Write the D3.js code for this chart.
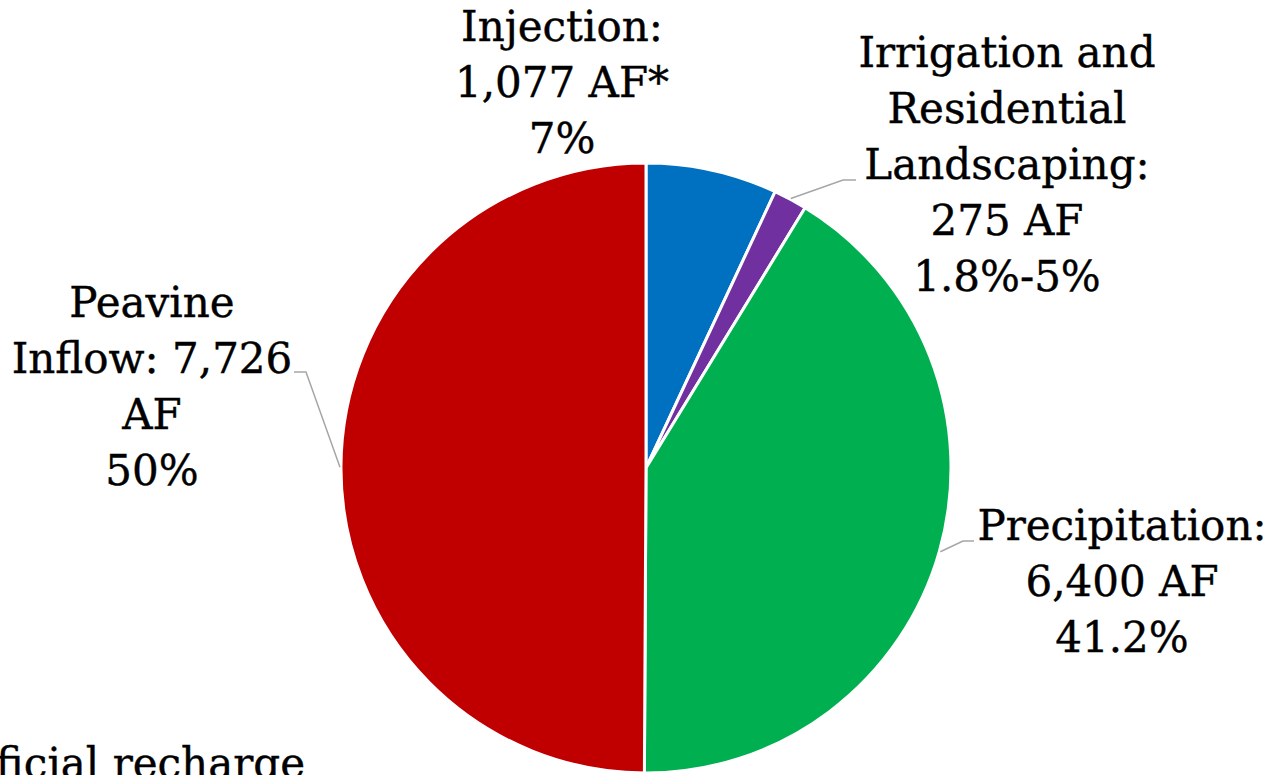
<!DOCTYPE html>
<html>
<head>
<meta charset="utf-8">
<script src="https://cdn.jsdelivr.net/npm/d3@7"></script>
<style>
	body { margin: 0; background: #fff; overflow: hidden; }
	text { font-family: "DejaVu Serif", serif; fill: #000; stroke: #000; stroke-width: 0.4px; }
</style>
</head>
<body>
<div id="chart"></div>
<script>
// Recharge sources, clockwise from 12 o'clock
const sources = ["Injection", "Irrigation", "Precipitation", "Peavine"];
const acreFeet = [1077, 275, 6400, 7726];
const sliceColors = ["#0070C0", "#7030A0", "#00B050", "#C00000"];
// label text as written on the slide (percent lines are the slide's own numbers)
const labelLines = [
	["Injection:", "1,077 AF*", "7%"],
	["Irrigation and", "Residential", "Landscaping:", "275 AF", "1.8%-5%"],
	["Precipitation:", "6,400 AF", "41.2%"],
	["Peavine", "Inflow: 7,726", "AF", "50%"]
];
const footnote = "*Artificial recharge";

const width = 1273, height = 775;
const cx = 646, cy = 468, radius = 305;
const lineH = 56;
const fontSize = "42px";

// where each label block sits (centre x, first baseline) and where its leader ends
const labelLayout = [
	{ x: 562, y: 41, leader: null },
	{ x: 1007, y: 67, leader: [[843, 180], [856, 180]] },
	{ x: 1122, y: 540, leader: [[963, 541], [974, 541]] },
	{ x: 152, y: 317, leader: [[306, 372], [294, 372]] }
];

const svg = d3.select("#chart").append("svg")
	.attr("width", width)
	.attr("height", height);

const pie = d3.pie().sort(null).value(d => d);
const arcs = pie(acreFeet);
const arc = d3.arc().innerRadius(0).outerRadius(radius);

const g = svg.append("g").attr("transform", `translate(${cx},${cy})`);

g.selectAll("path.slice")
	.data(arcs)
	.enter().append("path")
	.attr("class", "slice")
	.attr("d", arc)
	.attr("fill", (d, i) => sliceColors[i])
	.attr("stroke", "#fff")
	.attr("stroke-width", 3)
	.attr("stroke-linejoin", "round");

// leader lines: start at the slice's outer edge at its middle angle
arcs.forEach((d, i) =>
{
	const lay = labelLayout[i];
	if (!lay.leader) return;
	const mid = (d.startAngle + d.endAngle) / 2;
	const sx = cx + (radius + 1) * Math.sin(mid);
	const sy = cy - (radius + 1) * Math.cos(mid);
	const pts = [[sx, sy]].concat(lay.leader);
	svg.append("path")
		.attr("d", d3.line()(pts))
		.attr("fill", "none")
		.attr("stroke", "#A6A6A6")
		.attr("stroke-width", 1.5);
});

// data labels
labelLines.forEach((lines, i) =>
{
	const lay = labelLayout[i];
	const t = svg.append("text")
		.attr("text-anchor", "middle")
		.style("font-size", fontSize);
	lines.forEach((s, j) =>
	{
		t.append("tspan")
			.attr("x", lay.x)
			.attr("y", lay.y + j * lineH)
			.text(s);
	});
});

// footnote, mostly cut off at the bottom-left of the slide (as on the original)
svg.append("text")
	.attr("x", 305)
	.attr("y", 778)
	.attr("text-anchor", "end")
	.style("font-size", fontSize)
	.text(footnote);
</script>
</body>
</html>
